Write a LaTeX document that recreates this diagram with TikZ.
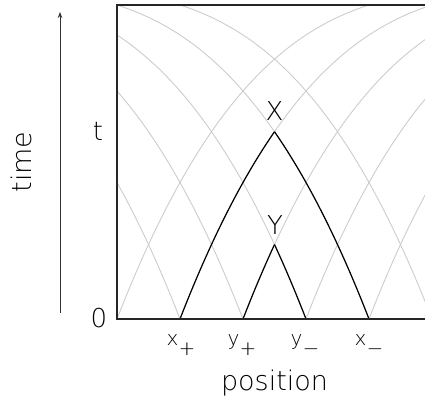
\documentclass[tikz,border=0pt]{standalone}
\usepackage{fontspec}
\usetikzlibrary{arrows.meta}
\setmainfont{DejaVu Sans ExtraLight}
\begin{document}
\begin{tikzpicture}[x=1pt,y=-1pt,
  graycurve/.style={draw=black!20,line width=0.9pt},
  blackcurve/.style={draw=black,line width=1.2pt},
  frame/.style={draw=black!85,line width=1.4pt},
  big/.style={font=\fontsize{27}{30}\selectfont,inner sep=0pt},
  lab/.style={font=\fontsize{26}{30}\selectfont,inner sep=0pt},
  small/.style={font=\fontsize{20}{22}\selectfont,inner sep=0pt},
  cone/.pic={\path[pic actions] plot[domain=0:1.12,samples=80,smooth] ({252*\x},{-314*(2.0657*\x-1.388*\x*\x+0.3223*\x*\x*\x)});}
]
\useasboundingbox (0,0) rectangle (425,399);
% gray characteristic curves
\begin{scope}
  \clip (117,5) rectangle (432,319);
  \foreach \p in {117,180,243,306,369}
    \pic[graycurve] at (\p,319) {cone};
  \foreach \p in {180,243,306,369,432}
    \pic[graycurve,xscale=-1] at (\p,319) {cone};
\end{scope}
% black light cones
\coordinate (xp) at (180,319);
\coordinate (yp) at (243,319);
\coordinate (ym) at (306,319);
\coordinate (xm) at (369,319);
\draw[blackcurve,shift={(xp)}] plot[domain=0:0.375,samples=40,smooth] ({252*\x},{-314*(2.0657*\x-1.388*\x*\x+0.3223*\x*\x*\x)});
\draw[blackcurve,shift={(xm)},xscale=-1] plot[domain=0:0.375,samples=40,smooth] ({252*\x},{-314*(2.0657*\x-1.388*\x*\x+0.3223*\x*\x*\x)});
\draw[blackcurve,shift={(yp)}] plot[domain=0:0.125,samples=20,smooth] ({252*\x},{-314*(2.0657*\x-1.388*\x*\x+0.3223*\x*\x*\x)});
\draw[blackcurve,shift={(ym)},xscale=-1] plot[domain=0:0.125,samples=20,smooth] ({252*\x},{-314*(2.0657*\x-1.388*\x*\x+0.3223*\x*\x*\x)});
% frame
\draw[frame] (432,5) -- (117,5) -- (117,319) -- (432,319) -- cycle;
% time arrow
\coordinate (tb) at (60,313);
\coordinate (tt) at (60,12);
\draw[black!80,line width=0.8pt,-{Stealth[length=6pt,width=4.5pt]}] (tb) -- (tt);
% labels
\node[big,rotate=90] (time) at (21,162) {time};
\node[big,anchor=base] (pos) at (274.5,390) {position};
\node[lab,anchor=base] (tl) at (98,140) {t};
\node[lab] (zero) at (99,318) {0};
\node[lab] (X) at (274.5,111.5) {X};
\node[lab] (Y) at (275,225) {Y};
\node[small,anchor=base] (lxp) at (181,345) {x\raisebox{-10pt}{+}};
\node[small,anchor=base] (lyp) at (242,345) {y\raisebox{-10pt}{+}};
\node[small,anchor=base] (lym) at (305,345) {y\raisebox{-10pt}{−}};
\node[small,anchor=base] (lxm) at (369,345) {x\raisebox{-10pt}{−}};
\end{tikzpicture}
\end{document}
